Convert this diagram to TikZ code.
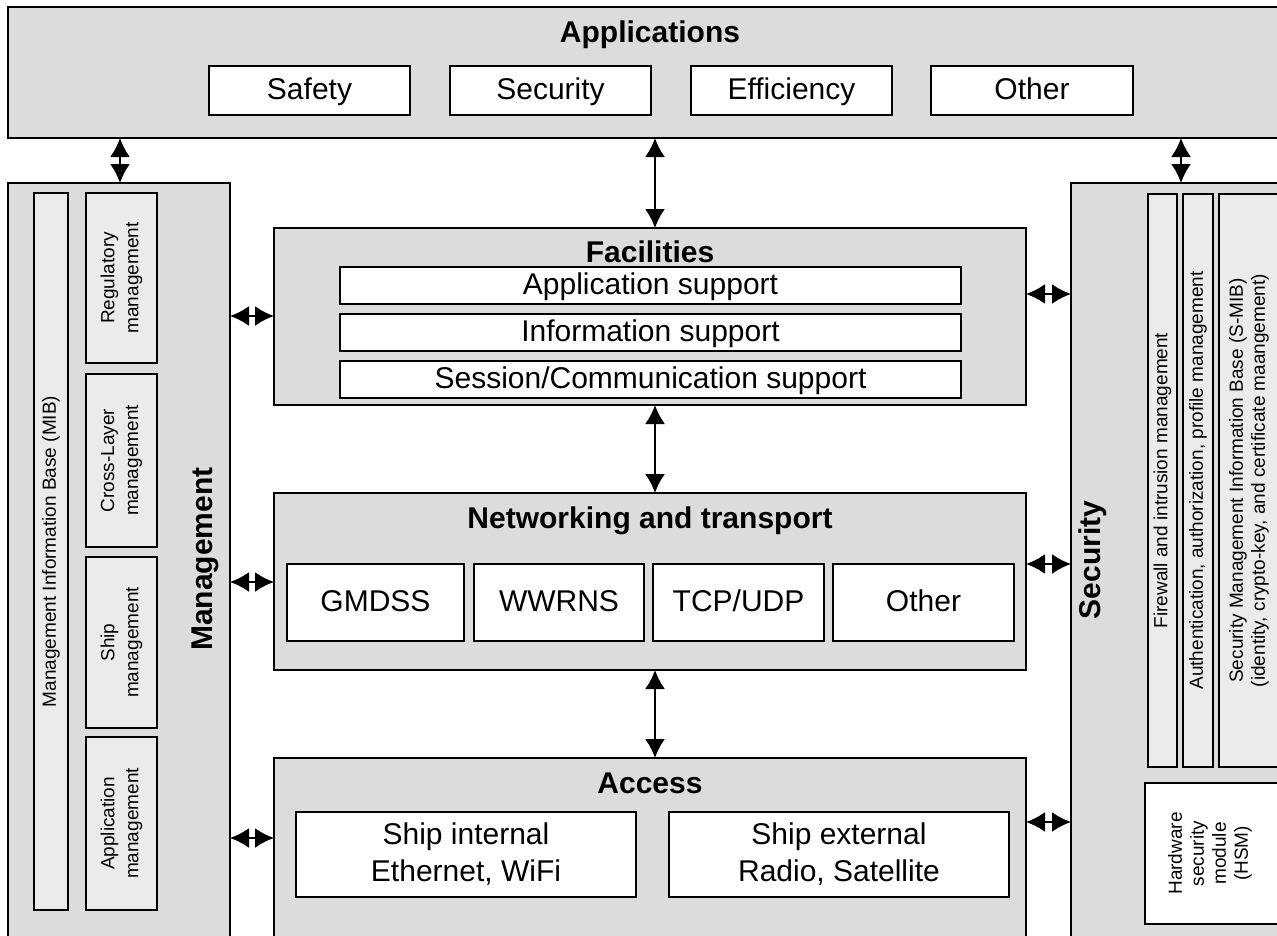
\documentclass[tikz,border=0pt]{standalone}
\usepackage{fontspec}
\setmainfont{Liberation Sans}
\usetikzlibrary{arrows.meta}
\definecolor{outergray}{RGB}{220,220,220}
\definecolor{innergray}{RGB}{235,235,235}
\newcommand\fbig{\fontsize{30}{34}\selectfont}
\newcommand\fbigtwo{\fontsize{30}{37}\selectfont}
\newcommand\fsmall{\fontsize{19}{24}\selectfont}
\newcommand\fsmalltight{\fontsize{19}{22}\selectfont}
\tikzset{
  outerbox/.style={draw, line width=2pt, fill=outergray, inner sep=0pt, outer sep=0pt},
  whitebox/.style={draw, line width=2pt, fill=white, inner sep=0pt, outer sep=0pt, font=\fbig, align=center},
  onebox/.style={whitebox, text height=22pt, text depth=4pt},
  innerbox/.style={draw, line width=2pt, fill=innergray, inner sep=0pt, outer sep=0pt, font=\fsmall, align=center},
  title/.style={font=\fbig\bfseries, anchor=base, inner sep=0pt},
  arr/.style={line width=2pt, {Latex[length=19pt,width=20pt]}-{Latex[length=19pt,width=20pt]}}
}
\begin{document}
\begin{tikzpicture}[x=1pt,y=-1pt]
\useasboundingbox (0,0) rectangle (1277,935);
% outer boxes
\node[outerbox, minimum width=1282pt, minimum height=131pt] (apps) at (649,72.5) {};
\node[outerbox, minimum width=222pt, minimum height=767pt] (mgmt) at (119,566.5) {};
\node[outerbox, minimum width=219pt, minimum height=767pt] (sec) at (1180.5,566.5) {};
\node[outerbox, minimum width=752pt, minimum height=177pt] (fac) at (650,316.5) {};
\node[outerbox, minimum width=752pt, minimum height=177pt] (net) at (650,581.5) {};
\node[outerbox, minimum width=752pt, minimum height=192pt] (acc) at (650,854) {};
% titles
\node[title] (appsT) at (650,42) {Applications};
\node[title] (facT) at (650,262) {Facilities};
\node[title] (netT) at (650,528) {Networking and transport};
\node[title] (accT) at (650,793) {Access};
\node[font=\fbig\bfseries, rotate=90, inner sep=0pt] (mgmtT) at (205,559) {Management};
\node[font=\fbig\bfseries, rotate=90, inner sep=0pt] (secT) at (1093,560) {Security};
% applications
\node[onebox, minimum width=201pt, minimum height=49pt] (safety) at (309.5,90.5) {Safety};
\node[onebox, minimum width=201pt, minimum height=49pt] (secu) at (550.5,90.5) {Security};
\node[onebox, minimum width=201pt, minimum height=49pt] (eff) at (791.5,90.5) {Efficiency};
\node[onebox, minimum width=202pt, minimum height=49pt] (othA) at (1032,90.5) {Other};
% facilities
\node[onebox, minimum width=621pt, minimum height=37pt] (appsup) at (650.5,285.5) {Application support};
\node[onebox, minimum width=621pt, minimum height=37pt] (infsup) at (650.5,332.5) {Information support};
\node[onebox, minimum width=621pt, minimum height=37pt] (sessup) at (650.5,379.5) {Session/Communication support};
% networking
\node[onebox, minimum width=177pt, minimum height=77pt] (gmdss) at (375.5,602.5) {GMDSS};
\node[onebox, minimum width=170pt, minimum height=77pt] (wwrns) at (559,602.5) {WWRNS};
\node[onebox, minimum width=171pt, minimum height=77pt] (tcp) at (738.5,602.5) {TCP/UDP};
\node[onebox, minimum width=181pt, minimum height=77pt] (othN) at (923.5,602.5) {Other};
% access
\node[whitebox, font=\fbigtwo, minimum width=340pt, minimum height=85pt] (intl) at (466,854.5) {Ship internal\\Ethernet, WiFi};
\node[whitebox, font=\fbigtwo, minimum width=340pt, minimum height=85pt] (extl) at (839,854.5) {Ship external\\Radio, Satellite};
% management inner
\node[innerbox, rotate=90, minimum width=717pt, minimum height=34pt] (mib) at (51,551.5) {Management Information Base (MIB)};
\node[innerbox, rotate=90, minimum width=170pt, minimum height=71pt] (reg) at (121.5,278) {Regulatory\\management};
\node[innerbox, rotate=90, minimum width=173pt, minimum height=71pt] (cross) at (121.5,460.5) {Cross-Layer\\management};
\node[innerbox, rotate=90, minimum width=171pt, minimum height=71pt] (ship) at (121.5,642.5) {Ship\\management};
\node[innerbox, rotate=90, minimum width=173pt, minimum height=71pt] (appm) at (121.5,823.5) {Application\\management};
% security inner
\node[innerbox, rotate=90, minimum width=573pt, minimum height=29pt] (fw) at (1162.5,480.5) {Firewall and intrusion management};
\node[innerbox, rotate=90, minimum width=573pt, minimum height=30pt] (auth) at (1198,480.5) {Authentication, authorization, profile management};
\node[innerbox, minimum width=71pt, minimum height=573pt] (smib) at (1254.5,480.5) {};
\node[font=\fsmalltight, align=center, rotate=90, inner sep=0pt] (smibT) at (1249,480.5) {Security Management Information Base (S-MIB)\\(identity, crypto-key, and certificate maangement)};
\node[draw, line width=2pt, fill=white, inner sep=0pt, outer sep=0pt, minimum width=145pt, minimum height=141pt] (hsm) at (1217.5,853.5) {};
\node[font=\fsmalltight, align=center, rotate=90, inner sep=0pt] (hsmT) at (1210,853.5) {Hardware\\security\\module\\(HSM)};
% arrow positions
\coordinate (xl) at (120,0);
\coordinate (xm) at (655,0);
\coordinate (xr) at (1181,0);
\coordinate (ya) at (0,316);
\coordinate (yb) at (0,582);
\coordinate (yc) at (0,838);
\coordinate (yd) at (0,294);
\coordinate (ye) at (0,564);
\coordinate (yf) at (0,822);
% arrows
\draw[arr] (apps.south -| xl) -- (mgmt.north -| xl);
\draw[arr] (apps.south -| xm) -- (fac.north -| xm);
\draw[arr] (apps.south -| xr) -- (sec.north -| xr);
\draw[arr] (fac.south -| xm) -- (net.north -| xm);
\draw[arr] (net.south -| xm) -- (acc.north -| xm);
\draw[arr] (mgmt.east |- ya) -- (fac.west |- ya);
\draw[arr] (mgmt.east |- yb) -- (net.west |- yb);
\draw[arr] (mgmt.east |- yc) -- (acc.west |- yc);
\draw[arr] (fac.east |- yd) -- (sec.west |- yd);
\draw[arr] (net.east |- ye) -- (sec.west |- ye);
\draw[arr] (acc.east |- yf) -- (sec.west |- yf);
\end{tikzpicture}
\end{document}
